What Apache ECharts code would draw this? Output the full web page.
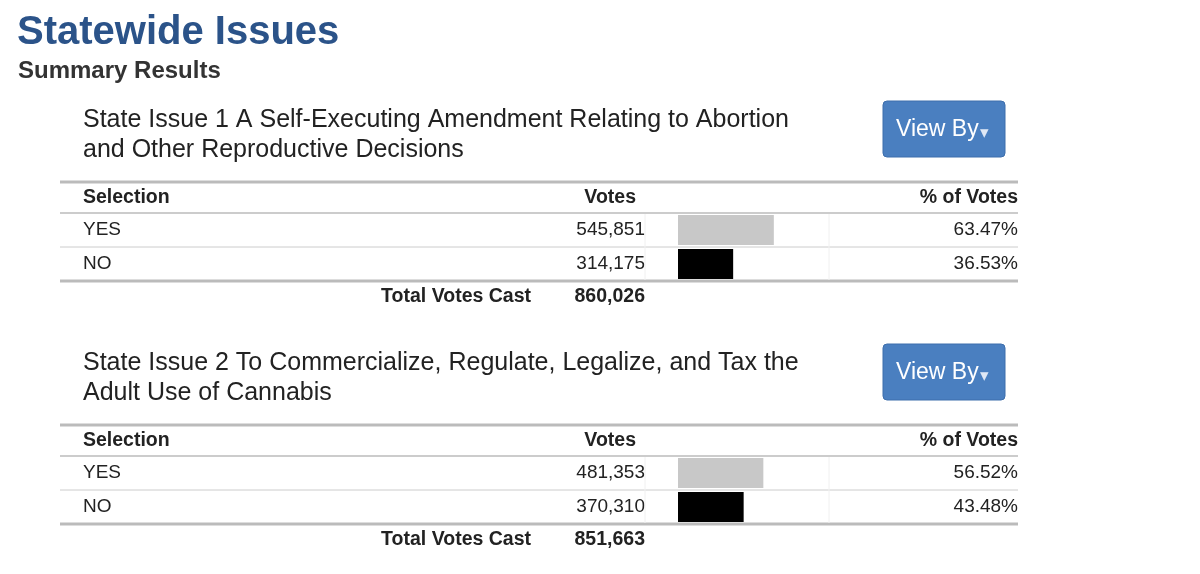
<!DOCTYPE html>
<html><head><meta charset="utf-8">
<script src="https://cdn.jsdelivr.net/npm/echarts@6/dist/echarts.min.js"></script>
<style>html,body{margin:0;background:#fff}#c{width:1200px;height:574px}</style>
</head><body><div id="c"></div>
<script>
const issueTitles = [
  ["State Issue 1 A Self-Executing Amendment Relating to Abortion", "and Other Reproductive Decisions"],
  ["State Issue 2 To Commercialize, Regulate, Legalize, and Tax the", "Adult Use of Cannabis"]
];
const selections = ["YES", "NO"];
const votes = [["545,851", "314,175"], ["481,353", "370,310"]];
const pctValues = [[63.47, 36.53], [56.52, 43.48]];
const pctLabels = [["63.47%", "36.53%"], ["56.52%", "43.48%"]];
const totals = ["860,026", "851,663"];

const chart = echarts.init(document.getElementById('c'));
const F = 'Helvetica, "Liberation Sans", Arial, sans-serif';
const g = [];
const txt = (x, y, s, o) => g.push({type:'text', x, y, style:Object.assign({text:s, font:'19px '+F, fill:'#222', textVerticalAlign:'middle'}, o||{})});
const line = (x1, y, x2, w, c) => g.push({type:'line', shape:{x1, y1:y, x2, y2:y}, style:{stroke:c, lineWidth:w}});
const vline = (x, y1, y2) => g.push({type:'line', shape:{x1:x, y1, x2:x, y2}, style:{stroke:'#f0f0f0', lineWidth:1}});

txt(17, 33, 'Statewide Issues', {font:'bold 40px '+F, fill:'#2b5389'});
txt(18, 71, 'Summary Results', {font:'bold 24px '+F, fill:'#333'});

const grids = [], xAxes = [], yAxes = [], series = [];
issueTitles.forEach((t, i) => {
  const o = i * 243;
  txt(83, 120 + o, t[0], {font:'300 25px '+F, fill:'#222'});
  txt(83, 150 + o, t[1], {font:'300 25px '+F, fill:'#222'});
  g.push({type:'rect', shape:{x:883, y:101 + o, width:122, height:56, r:4}, style:{fill:'#4a7fc0', stroke:'#3d6eac', lineWidth:1}});
  txt(896, 130 + o, 'View By', {font:'23px '+F, fill:'#fff'});
  txt(980, 133 + o, '▾', {font:'17px '+F, fill:'#dfe8f5'});
  line(60, 182 + o, 1018, 3, '#bbb');
  txt(83, 198 + o, 'Selection', {font:'bold 19.5px '+F});
  txt(636, 198 + o, 'Votes', {font:'bold 19.5px '+F, textAlign:'right'});
  txt(1018, 198 + o, '% of Votes', {font:'bold 19.5px '+F, textAlign:'right'});
  line(60, 213 + o, 1018, 2, '#ccc');
  selections.forEach((s, j) => {
    const y = 230 + o + j * 34;
    txt(83, y, s);
    txt(645, y, votes[i][j], {textAlign:'right'});
    txt(1018, y, pctLabels[i][j], {textAlign:'right'});
  });
  line(60, 247 + o, 1018, 1, '#ccc');
  line(60, 281 + o, 1018, 3, '#bbb');
  vline(645, 214 + o, 280 + o); vline(829, 214 + o, 280 + o);
  txt(531, 297 + o, 'Total Votes Cast', {font:'bold 19.5px '+F, textAlign:'right'});
  txt(645, 297 + o, totals[i], {font:'bold 19.5px '+F, textAlign:'right'});

  grids.push({left:678, width:151, top:213 + o, height:68});
  xAxes.push({type:'value', gridIndex:i, min:0, max:100, show:false});
  yAxes.push({type:'category', gridIndex:i, data:selections, inverse:true, show:false});
  series.push({type:'bar', xAxisIndex:i, yAxisIndex:i, barWidth:30, silent:true,
    data:pctValues[i].map((v, j) => ({value:v, itemStyle:{color: j === 0 ? '#c8c8c8' : '#000'}}))});
});

chart.setOption({animation:false, grid:grids, xAxis:xAxes, yAxis:yAxes, series, graphic:g});
</script></body></html>
